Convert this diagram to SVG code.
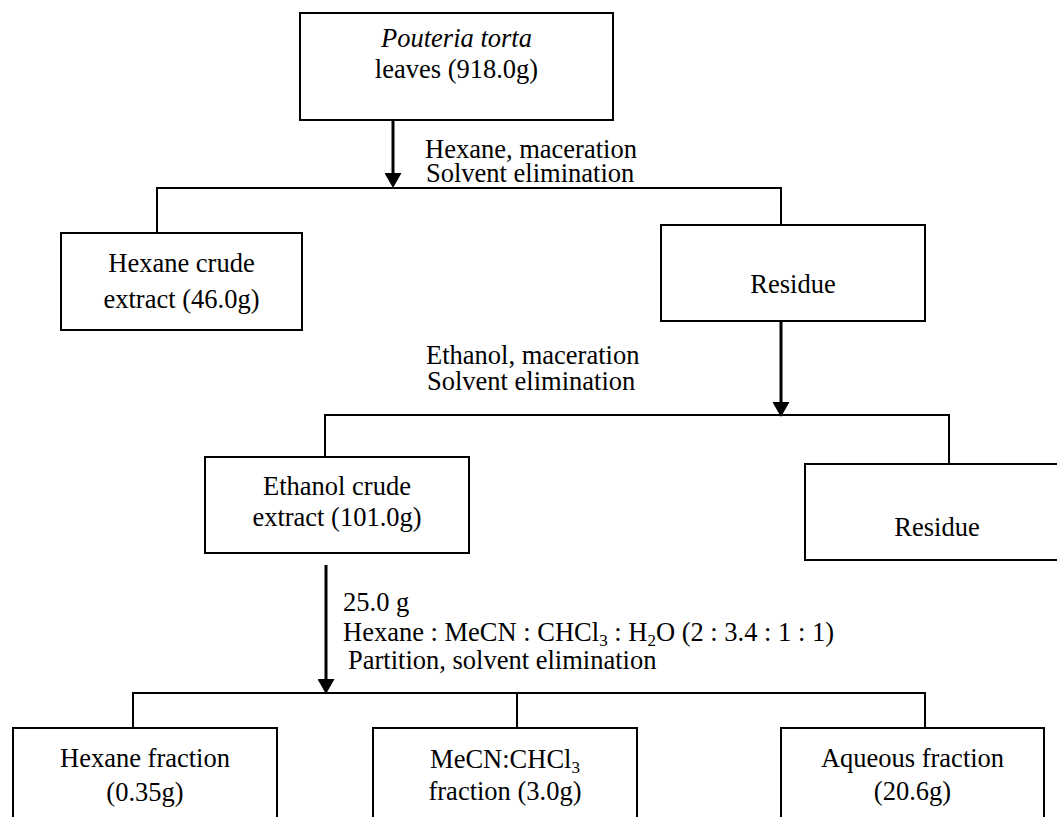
<svg xmlns="http://www.w3.org/2000/svg" width="1057" height="817" viewBox="0 0 1057 817">
<style>
  .box { fill: #ffffff; stroke: #000000; stroke-width: 2; }
  .conn { fill: none; stroke: #000000; stroke-width: 2; }
  .arrow { fill: none; stroke: #000000; stroke-width: 3; }
  .t { font-family: "Liberation Serif", "Times New Roman", Times, serif; font-size: 26.5px; fill: #000000; }
  .c { text-anchor: middle; }
  .sub { font-size: 17px; }
</style>
<defs>
  <marker id="head" markerUnits="userSpaceOnUse" viewBox="0 0 16 17" refX="7" refY="8.5" markerWidth="16" markerHeight="17" orient="auto">
    <path d="M0,0 L15,8.5 L0,17 z" fill="#000000"/>
  </marker>
</defs>
<rect width="1057" height="817" fill="#ffffff"/>

<g id="connectors">
  <line class="arrow" x1="393" y1="120" x2="393" y2="180" marker-end="url(#head)"/>
  <polyline class="conn" points="157,233 157,188 781,188 781,225"/>
  <line class="arrow" x1="781" y1="321" x2="781" y2="409" marker-end="url(#head)"/>
  <polyline class="conn" points="325,457 325,415 949,415 949,464"/>
  <line class="arrow" x1="326" y1="565" x2="326" y2="686" marker-end="url(#head)"/>
  <polyline class="conn" points="133,728 133,693 925,693 925,728"/>
  <line class="conn" x1="517" y1="693" x2="517" y2="728"/>
</g>

<g id="labels" class="t">
  <text x="425" y="158">Hexane, maceration</text>
  <text x="426" y="182">Solvent elimination</text>
  <text x="426" y="364">Ethanol, maceration</text>
  <text x="427" y="390">Solvent elimination</text>
  <text x="343" y="611">25.0 g</text>
  <text x="343" y="641">Hexane : MeCN : CHCl<tspan class="sub" baseline-shift="-5">3</tspan> : H<tspan class="sub" baseline-shift="-5">2</tspan>O  (2 : 3.4 : 1 : 1)</text>
  <text x="348" y="669">Partition, solvent elimination</text>
</g>

<g id="node-leaves" class="t">
  <rect class="box" x="300" y="13" width="313" height="107"/>
  <text class="c" x="456.5" y="47" font-style="italic">Pouteria torta</text>
  <text class="c" x="456.5" y="78">leaves (918.0g)</text>
</g>

<g id="node-hexane-crude" class="t">
  <rect class="box" x="61" y="233" width="241" height="97"/>
  <text class="c" x="181.5" y="272">Hexane crude</text>
  <text class="c" x="181.5" y="308">extract (46.0g)</text>
</g>

<g id="node-residue1" class="t">
  <rect class="box" x="661" y="225" width="264" height="96"/>
  <text class="c" x="793" y="293">Residue</text>
</g>

<g id="node-ethanol-crude" class="t">
  <rect class="box" x="205" y="457" width="264" height="96"/>
  <text class="c" x="337" y="495">Ethanol crude</text>
  <text class="c" x="337" y="526">extract (101.0g)</text>
</g>

<g id="node-residue2" class="t">
  <rect class="box" x="805" y="464" width="264" height="96"/>
  <text class="c" x="937" y="536">Residue</text>
</g>

<g id="node-hexane-fraction" class="t">
  <rect class="box" x="13" y="728" width="264" height="100"/>
  <text class="c" x="145" y="767">Hexane fraction</text>
  <text class="c" x="145" y="801">(0.35g)</text>
</g>

<g id="node-mecn-fraction" class="t">
  <rect class="box" x="373" y="728" width="264" height="100"/>
  <text class="c" x="505" y="768">MeCN:CHCl<tspan class="sub" baseline-shift="-5">3</tspan></text>
  <text class="c" x="505" y="800">fraction (3.0g)</text>
</g>

<g id="node-aqueous-fraction" class="t">
  <rect class="box" x="781" y="728" width="263" height="100"/>
  <text class="c" x="912.5" y="767">Aqueous fraction</text>
  <text class="c" x="912.5" y="800">(20.6g)</text>
</g>
</svg>
